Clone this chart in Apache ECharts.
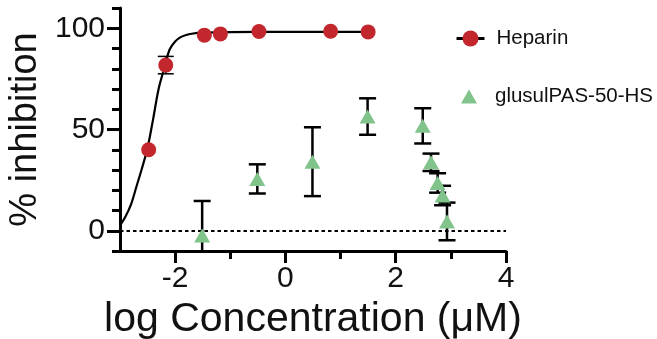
<!DOCTYPE html>
<html>
<head>
<meta charset="utf-8">
<script src="https://cdn.jsdelivr.net/npm/echarts@6/dist/echarts.min.js"></script>
<style>
html,body{margin:0;padding:0;background:#fff;}
#chart{width:657px;height:339px;}
</style>
</head>
<body>
<div id="chart"></div>
<script>
// ---- data ----
const heparinX   = [-2.48, -2.17, -1.47, -1.18, -0.48, 0.82, 1.50];
const heparinY   = [40.0, 81.8, 96.6, 97.2, 98.4, 98.5, 98.2];
const heparinErr = [0, 4.3, 0, 0, 0, 0, 0];

const glusulX   = [-1.51, -0.51, 0.49, 1.49, 2.49, 2.64, 2.76, 2.85, 2.93];
const glusulY   = [-2.3, 25.6, 34.1, 56.4, 51.8, 33.8, 23.6, 17.4, 4.6];
const glusulErr = [17.0, 7.2, 17.0, 9.0, 8.7, 4.3, 4.8, 4.8, 9.3];

// fitted Heparin curve
const curveX = [-3.0, -2.9, -2.8, -2.7, -2.6, -2.5, -2.4, -2.3, -2.2, -2.1, -2.0, -1.9, -1.8, -1.7, -1.5, -1.0, 0.0, 1.5];
const curveY = [2.5, 7, 13, 22, 31, 41, 55, 70, 80, 89.5, 93.5, 95.6, 96.7, 97.3, 97.8, 98.1, 98.2, 98.2];

const xMajorTicks = [-2, 0, 2, 4];
const xMinorTicks = [-1, 1, 3];
const yMajorTicks = [0, 50, 100];
const yMinorTicks = [-10, 10, 20, 30, 40, 60, 70, 80, 90, 110];

const X_MIN = -3, X_MAX = 4, Y_MIN = -10, Y_MAX = 110;

const RED = '#C1272D';
const GREEN = '#80C48B';
const FONT = '"Liberation Sans", Arial, Helvetica, sans-serif';

function zip(a, b, c) {
  return a.map((v, i) => c ? [v, b[i], c[i]] : [v, b[i]]);
}

function errRender(capHalf, width) {
  return function (params, api) {
    const x = api.value(0), y = api.value(1), e = api.value(2);
    if (!e) return null;
    const lowRaw = y - e, highRaw = y + e;
    const lo = Math.max(lowRaw, Y_MIN), hi = Math.min(highRaw, Y_MAX);
    const pHi = api.coord([x, hi]);
    const pLo = api.coord([x, lo]);
    const style = { stroke: '#000', lineWidth: width };
    const children = [
      { type: 'line', shape: { x1: pHi[0], y1: pHi[1], x2: pLo[0], y2: pLo[1] }, style: style }
    ];
    if (highRaw <= Y_MAX) children.push({ type: 'line', shape: { x1: pHi[0] - capHalf, y1: pHi[1], x2: pHi[0] + capHalf, y2: pHi[1] }, style: style });
    if (lowRaw >= Y_MIN) children.push({ type: 'line', shape: { x1: pLo[0] - capHalf, y1: pLo[1], x2: pLo[0] + capHalf, y2: pLo[1] }, style: style });
    return { type: 'group', children: children };
  };
}

const chart = echarts.init(document.getElementById('chart'), null, { renderer: 'canvas' });

const axisLineStyle = { color: '#000', width: 3 };

chart.setOption({
  animation: false,
  backgroundColor: '#fff',
  textStyle: { fontFamily: FONT },
  grid: { left: 120, right: 151, top: 8, bottom: 88, containLabel: false, outerBoundsMode: 'none' },
  legend: [
    {
      data: [{ name: 'Heparin', lineStyle: { width: 3, color: '#000' } }],
      left: 455, top: 28, padding: 0,
      itemWidth: 28, itemHeight: 20, itemGap: 12,
      textStyle: { fontSize: 20.5, color: '#111', fontFamily: FONT, padding: [0, 0, 0, 7] },
      selectedMode: false
    },
    {
      data: [{ name: 'glusulPAS-50-HS', icon: 'triangle', itemStyle: { color: GREEN } }],
      left: 461, top: 86, padding: 0,
      itemWidth: 16, itemHeight: 14,
      textStyle: { fontSize: 20.5, color: '#111', fontFamily: FONT, padding: [0, 0, 0, 13] },
      selectedMode: false
    }
  ],
  xAxis: [
    {
      type: 'value', min: X_MIN, max: X_MAX, position: 'bottom',
      axisLine: { show: true, onZero: false, lineStyle: axisLineStyle },
      axisTick: { show: true, length: 12, lineStyle: { width: 3, color: '#000' }, customValues: xMajorTicks },
      axisLabel: { show: true, fontSize: 30, color: '#111', margin: 13, fontFamily: FONT, customValues: xMajorTicks },
      splitLine: { show: false },
      name: 'log Concentration (\u03BCM)',
      nameLocation: 'middle', nameGap: 36,
      nameTextStyle: { fontSize: 41, color: '#111', fontFamily: FONT }
    },
    {
      type: 'value', min: X_MIN, max: X_MAX, position: 'bottom', offset: 0,
      axisLine: { show: false, onZero: false },
      axisTick: { show: true, length: 8, lineStyle: { width: 3, color: '#000' }, customValues: xMinorTicks },
      axisLabel: { show: false, customValues: xMinorTicks },
      splitLine: { show: false }
    }
  ],
  yAxis: [
    {
      type: 'value', min: Y_MIN, max: Y_MAX, position: 'left',
      axisLine: { show: true, onZero: false, lineStyle: axisLineStyle },
      axisTick: { show: true, length: 13, lineStyle: { width: 3, color: '#000' }, customValues: yMajorTicks },
      axisLabel: { show: true, fontSize: 30, color: '#111', margin: 15, fontFamily: FONT, customValues: yMajorTicks },
      splitLine: { show: false },
      name: '% inhibition',
      nameLocation: 'middle', nameGap: 70,
      nameTextStyle: { fontSize: 38, color: '#111', fontFamily: FONT }
    },
    {
      type: 'value', min: Y_MIN, max: Y_MAX, position: 'left', offset: 0,
      axisLine: { show: false, onZero: false },
      axisTick: { show: true, length: 8, lineStyle: { width: 3, color: '#000' }, customValues: yMinorTicks },
      axisLabel: { show: false, customValues: yMinorTicks },
      splitLine: { show: false }
    }
  ],
  series: [
    {
      name: 'Heparin',
      type: 'line',
      data: zip(curveX, curveY),
      smooth: 0.35,
      showSymbol: false,
      symbol: 'circle',
      symbolSize: 15,
      itemStyle: { color: RED },
      lineStyle: { color: '#000', width: 2.2 },
      z: 2,
      silent: true,
      markLine: {
        silent: true,
        symbol: ['none', 'none'],
        label: { show: false },
        lineStyle: { color: '#000', width: 2, type: [3.5, 3] },
        data: [{ yAxis: 0 }]
      }
    },
    {
      name: 'Heparin',
      type: 'custom',
      data: zip(heparinX, heparinY, heparinErr),
      encode: { x: 0, y: 1 },
      renderItem: errRender(8, 1.5),
      z: 3, silent: true
    },
    {
      name: 'Heparin',
      type: 'scatter',
      data: zip(heparinX, heparinY),
      symbol: 'circle',
      symbolSize: 15,
      itemStyle: { color: RED, opacity: 1 },
      z: 5
    },
    {
      name: 'glusulPAS-50-HS',
      type: 'scatter',
      data: zip(glusulX, glusulY),
      symbol: 'triangle',
      symbolSize: [16, 14],
      itemStyle: { color: GREEN, opacity: 1 },
      z: 5
    },
    {
      name: 'glusulPAS-50-HS',
      type: 'custom',
      data: zip(glusulX, glusulY, glusulErr),
      encode: { x: 0, y: 1 },
      renderItem: errRender(8.5, 2.5),
      z: 3, silent: true
    }
  ]
});
</script>
</body>
</html>
